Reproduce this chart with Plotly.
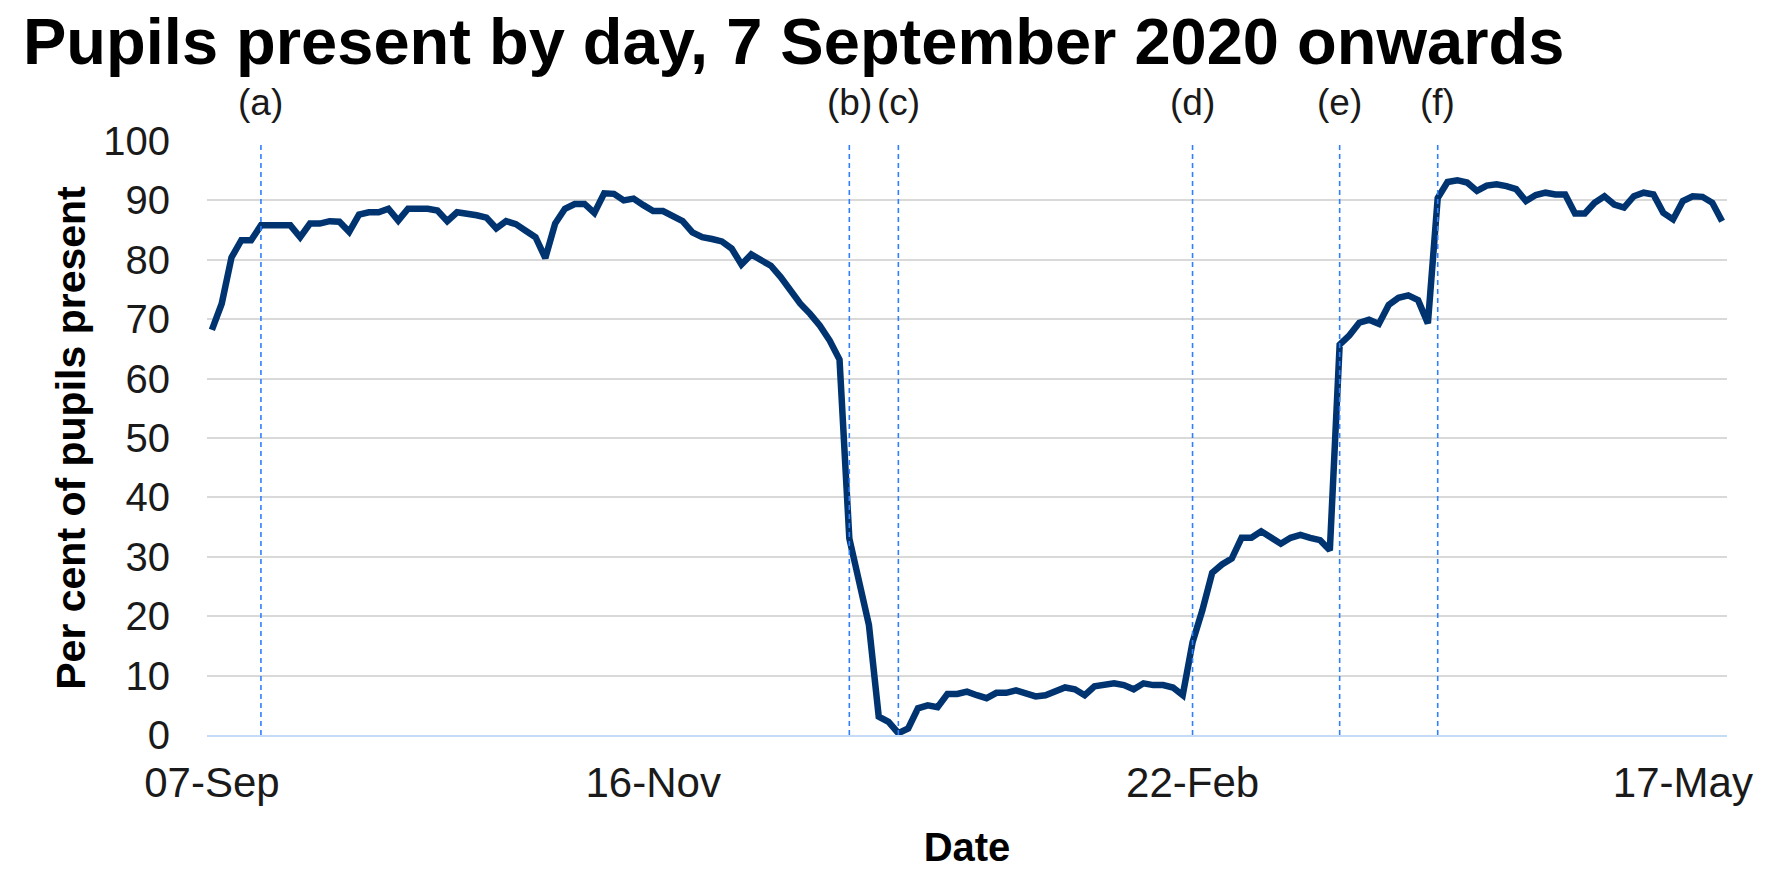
import plotly.graph_objects as go

# ---- data ----
pct_present = [
    68.2, 72.6, 80.4, 83.3, 83.3, 85.8, 85.8, 85.8, 85.8, 83.8,
    86.1, 86.1, 86.5, 86.4, 84.7, 87.6, 88.0, 88.0, 88.6, 86.6,
    88.6, 88.6, 88.6, 88.3, 86.5, 88.0, 87.8, 87.5, 87.1, 85.3,
    86.5, 86.0, 84.9, 83.8, 80.3, 86.1, 88.6, 89.4, 89.4, 87.9,
    91.2, 91.1, 90.0, 90.3, 89.2, 88.2, 88.2, 87.3, 86.5, 84.6,
    83.8, 83.5, 83.1, 81.9, 79.2, 80.9, 79.9, 79.0, 77.1, 74.7,
    72.6, 70.9, 68.9, 66.4, 63.2, 33.1, 26.0, 18.5, 3.1, 2.2,
    0.3, 1.1, 4.5, 5.0, 4.7, 6.9, 6.9, 7.3, 6.7, 6.2,
    7.1, 7.1, 7.5, 7.0, 6.5, 6.7, 7.5, 8.0, 7.7, 6.7,
    8.2, 8.4, 8.7, 8.4, 7.7, 8.7, 8.4, 8.4, 8.0, 6.7,
    15.6, 21.0, 27.3, 28.7, 29.7, 33.2, 33.2, 34.3, 33.4, 32.2,
    33.2, 33.7, 33.2, 32.8, 31.1, 65.7, 67.3, 69.4, 69.9, 69.2,
    72.4, 73.6, 74.0, 73.2, 69.3, 90.4, 93.1, 93.4, 93.0, 91.6,
    92.5, 92.7, 92.4, 91.9, 89.9, 90.9, 91.3, 91.0, 91.0, 87.8,
    87.8, 89.6, 90.7, 89.3, 88.8, 90.7, 91.3, 91.0, 87.9, 86.8,
    89.9, 90.7, 90.6, 89.6, 86.5,
]
school_day = list(range(len(pct_present)))

tick_day = [0, 45, 100, 150]
tick_labels = ["07-Sep", "16-Nov", "22-Feb", "17-May"]

event_day = [5, 65, 70, 100, 115, 125]
event_labels = ["(a)", "(b)", "(c)", "(d)", "(e)", "(f)"]

y_ticks = [0, 10, 20, 30, 40, 50, 60, 70, 80, 90, 100]

FONT = "Liberation Sans, Arial, sans-serif"

fig = go.Figure()
fig.add_trace(go.Scatter(
    x=school_day, y=pct_present, mode="lines",
    line=dict(color="#003470", width=6.5),
    showlegend=False, hoverinfo="y",
))

for d, lab in zip(event_day, event_labels):
    fig.add_shape(type="line", xref="x", yref="y", x0=d, x1=d, y0=0, y1=100,
                  line=dict(color="#2F80FF", width=1.6, dash="5px,4px"), layer="above")
    fig.add_annotation(x=d, y=100, xref="x", yref="y", text=lab, showarrow=False,
                       yanchor="middle", yshift=39,
                       font=dict(family=FONT, size=37, color="#1a1a1a"))

fig.update_layout(
    width=1773, height=869,
    margin=dict(l=207, r=46, t=141, b=134, pad=0, autoexpand=False),
    paper_bgcolor="white", plot_bgcolor="white",
    title=dict(text="<b>Pupils present by day, 7 September 2020 onwards</b>",
               font=dict(family=FONT, size=65, color="black"),
               x=23 / 1773, xanchor="left", xref="container",
               y=1 - 41 / 869, yanchor="middle", yref="container"),
    xaxis=dict(
        automargin=False,
        range=[-0.5, len(pct_present) - 0.5],
        tickmode="array", tickvals=tick_day, ticktext=tick_labels,
        ticks="outside", ticklen=10, tickcolor="rgba(0,0,0,0)",
        tickfont=dict(family=FONT, size=42, color="#1a1a1a"),
        showgrid=False, zeroline=False,
        showline=True, linecolor="#C6DBF5", linewidth=2,
        title=dict(text="<b>Date</b>", font=dict(family=FONT, size=40, color="black"),
                   standoff=33),
    ),
    yaxis=dict(
        automargin=False,
        range=[0, 100], tickmode="array", tickvals=y_ticks,
        ticks="outside", ticklen=28, tickcolor="rgba(0,0,0,0)",
        tickfont=dict(family=FONT, size=40, color="#1a1a1a"),
        showgrid=True, gridcolor="#D9D9D9", gridwidth=1.5,
        zeroline=False, showline=False,
        title=dict(text="<b>Per cent of pupils present</b>",
                   font=dict(family=FONT, size=41, color="black"), standoff=4),
    ),
)

fig.write_html("out.html",
               config={"displayModeBar": False},
               post_script="document.body.style.margin='0';document.body.style.overflow='hidden';")
